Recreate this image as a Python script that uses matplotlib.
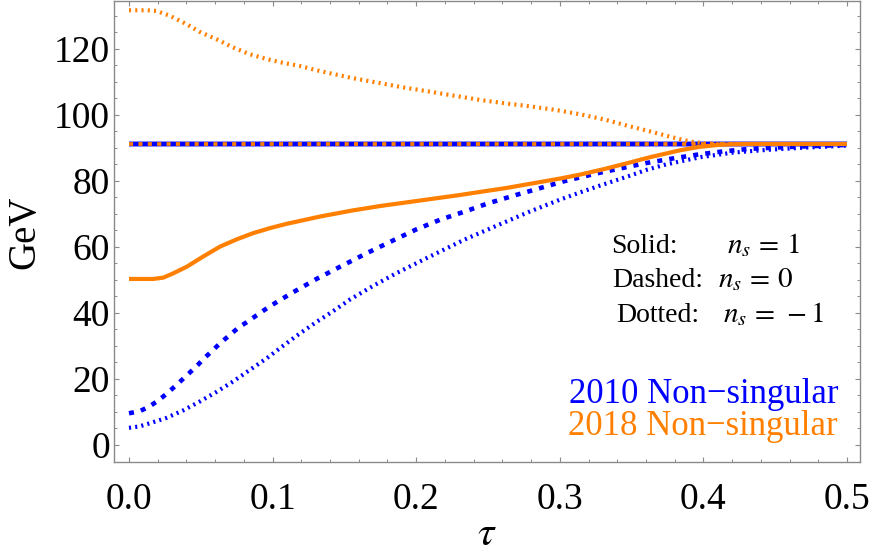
import matplotlib
matplotlib.use("Agg")
import matplotlib.pyplot as plt
import matplotlib.patheffects as pe
from matplotlib.ticker import MultipleLocator, FormatStrFormatter

plt.rcParams['font.family'] = ['Liberation Serif', 'DejaVu Serif']
plt.rcParams['mathtext.fontset'] = 'stix'

MZ = 91.19

# 2010 Non-singular, n_s = 1 (solid) : flat at MZ
tau_b_solid = [0.0, 0.5]
val_b_solid = [MZ, MZ]

# 2018 Non-singular, n_s = 0 (dashed) : flat at MZ
tau_o_dashed = [0.0, 0.5]
val_o_dashed = [MZ, MZ]

# 2010 Non-singular, n_s = 0 (dashed)
tau_b_dashed = [0.0, 0.0077, 0.0135, 0.0188, 0.0239, 0.029, 0.0336, 0.0383, 0.0432, 0.0478,
                0.0524, 0.0569, 0.0617, 0.0666, 0.0715, 0.0766, 0.082, 0.0873, 0.0926, 0.0977,
                0.1033, 0.114, 0.131, 0.147, 0.166, 0.186, 0.2, 0.217, 0.233, 0.25,
                0.27, 0.279, 0.302, 0.326, 0.349, 0.36, 0.38, 0.398, 0.415, 0.432,
                0.45, 0.467, 0.485, 0.5]
val_b_dashed = [9.6, 10.3, 11.5, 13.0, 14.7, 16.6, 18.4, 20.3, 22.3, 24.2,
                26.3, 28.1, 30.1, 32.0, 33.8, 35.7, 37.2, 38.8, 40.4, 41.9,
                43.4, 46.2, 50.4, 54.0, 58.2, 62.4, 65.3, 68.3, 70.6, 73.2,
                75.8, 76.9, 79.8, 82.3, 84.4, 85.4, 86.9, 88.1, 89.0, 89.7,
                90.1, 90.4, 90.7, 90.9]

# 2010 Non-singular, n_s = -1 (dotted)
tau_b_dotted = [0.0, 0.007, 0.0146, 0.026, 0.0378, 0.049, 0.061, 0.0727, 0.084, 0.096,
                0.1075, 0.119, 0.131, 0.142, 0.154, 0.17, 0.186, 0.21, 0.233, 0.258,
                0.279, 0.3, 0.316, 0.326, 0.349, 0.36, 0.374, 0.398, 0.421, 0.444,
                0.467, 0.5]
val_b_dotted = [5.2, 5.6, 6.6, 8.2, 10.5, 13.1, 16.1, 19.3, 22.7, 26.3,
                30.1, 33.8, 37.4, 40.5, 44.1, 48.2, 52.0, 57.2, 62.1, 66.8,
                70.7, 74.3, 76.8, 78.3, 81.6, 83.3, 85.0, 87.2, 88.6, 89.4,
                90.0, 90.7]

# 2018 Non-singular, n_s = -1 (dotted)
tau_o_dotted = [0.0, 0.012, 0.019, 0.0286, 0.040, 0.049, 0.061, 0.0727, 0.084, 0.096,
                0.107, 0.119, 0.13, 0.14, 0.155, 0.175, 0.19, 0.21, 0.228, 0.245,
                0.262, 0.279, 0.297, 0.314, 0.332, 0.349, 0.362, 0.374, 0.385, 0.393,
                0.401, 0.41, 0.5]
val_o_dotted = [131.7, 131.7, 131.5, 130.0, 127.5, 125.2, 122.9, 120.4, 118.4, 116.9,
                115.8, 114.8, 113.6, 112.6, 111.2, 109.6, 108.4, 107.0, 105.7, 104.5,
                103.5, 102.6, 101.5, 100.2, 98.5, 96.5, 95.1, 93.7, 92.5, 91.8,
                91.35, 91.19, 91.19]

# 2018 Non-singular, n_s = 1 (solid)
tau_o_solid = [0.0, 0.0169, 0.0239, 0.0308, 0.0402, 0.0517, 0.0634, 0.075, 0.0866, 0.0982,
               0.1098, 0.133, 0.155, 0.175, 0.195, 0.21, 0.23, 0.245, 0.262, 0.279,
               0.3, 0.314, 0.33, 0.349, 0.363, 0.375, 0.384, 0.397, 0.41, 0.42,
               0.43, 0.5]
val_o_solid = [50.3, 50.3, 50.7, 52.0, 54.0, 57.1, 60.1, 62.3, 64.2, 65.7,
               67.0, 69.2, 71.0, 72.4, 73.6, 74.5, 75.7, 76.7, 77.8, 79.1,
               80.7, 81.9, 83.5, 85.6, 87.2, 88.4, 89.3, 90.3, 90.9, 91.1,
               91.19, 91.19]

x_ticks = [0.0, 0.1, 0.2, 0.3, 0.4, 0.5]
y_ticks = [0, 20, 40, 60, 80, 100, 120]

BLUE = (0, 0, 1)
ORANGE = (1, 0.5, 0)

W, H = 872, 557
fig = plt.figure(figsize=(W / 100, H / 100), dpi=100)
ax = fig.add_axes([114 / W, 1 - 461.7 / H, (860 - 114) / W, (461.7 - 1) / H])

ax.plot(tau_b_solid, val_b_solid, color=BLUE, lw=3.0, solid_capstyle='butt',
        path_effects=[pe.Stroke(linewidth=4.4, foreground='#9a9aff'), pe.Normal()], zorder=2)
ax.plot(tau_o_dashed, val_o_dashed, color=ORANGE, lw=2.7, dashes=(1.1, 1.4),
        dash_capstyle='butt', zorder=3)
ax.plot(tau_b_dashed, val_b_dashed, color=BLUE, lw=3.3, dashes=(1.1, 1.55),
        dash_capstyle='butt', zorder=4)
ax.plot(tau_b_dotted, val_b_dotted, color=BLUE, lw=3.0, dashes=(0.5, 1.0),
        dash_capstyle='butt', zorder=4)
ax.plot(tau_o_dotted, val_o_dotted, color=ORANGE, lw=3.0, dashes=(0.5, 1.0),
        dash_capstyle='butt', zorder=4)
ax.plot(tau_o_solid, val_o_solid, color=ORANGE, lw=3.0, solid_capstyle='butt', zorder=5)

ax.set_xlim(-15 / 1436.0, (860 - 129) / 1436.0)
ax.set_ylim(-5.06, 134.5)

ax.set_xticks(x_ticks)
ax.set_yticks(y_ticks)
ax.xaxis.set_major_formatter(FormatStrFormatter('%.1f'))
ax.xaxis.set_minor_locator(MultipleLocator(0.02))
ax.yaxis.set_minor_locator(MultipleLocator(5))

for s in ax.spines.values():
    s.set_color('#8a8a8a')
    s.set_linewidth(1.0)

ax.tick_params(which='both', direction='in', top=True, right=True, colors='#8a8a8a',
               labelcolor='black')
ax.tick_params(which='major', length=3.8, width=0.8)
ax.tick_params(which='minor', length=2.2, width=0.7)
ax.tick_params(axis='x', which='major', labelsize=27, pad=15)
ax.tick_params(axis='y', which='major', labelsize=27, pad=3)

fig.text(25 / W, 1 - 232 / H, 'GeV', rotation=90, fontsize=28, ha='center', va='center')
fig.text(487 / W, 1 - 535 / H, r'$\tau$', fontsize=30, ha='center', va='center')

rows = [('Solid:', 611, r'$n_s\, =\, 1$', 727, 253.0),
        ('Dashed:', 612, r'$n_s\, =\, 0$', 718, 287.3),
        ('Dotted:', 616, r'$n_s\, =\, -1$', 723, 321.7)]
for word, xw, mth, xm, yb in rows:
    fig.text(xw / W, 1 - yb / H, word, fontsize=20, ha='left', va='baseline')
    fig.text(xm / W, 1 - yb / H, mth, fontsize=21, ha='left', va='baseline')

fig.text(838 / W, 1 - 402.7 / H, '2010 Non\u2212singular', color=BLUE, fontsize=25,
         ha='right', va='baseline')
fig.text(838 / W, 1 - 435 / H, '2018 Non\u2212singular', color=ORANGE, fontsize=25,
         ha='right', va='baseline')

fig.savefig('out.png', dpi=100)
